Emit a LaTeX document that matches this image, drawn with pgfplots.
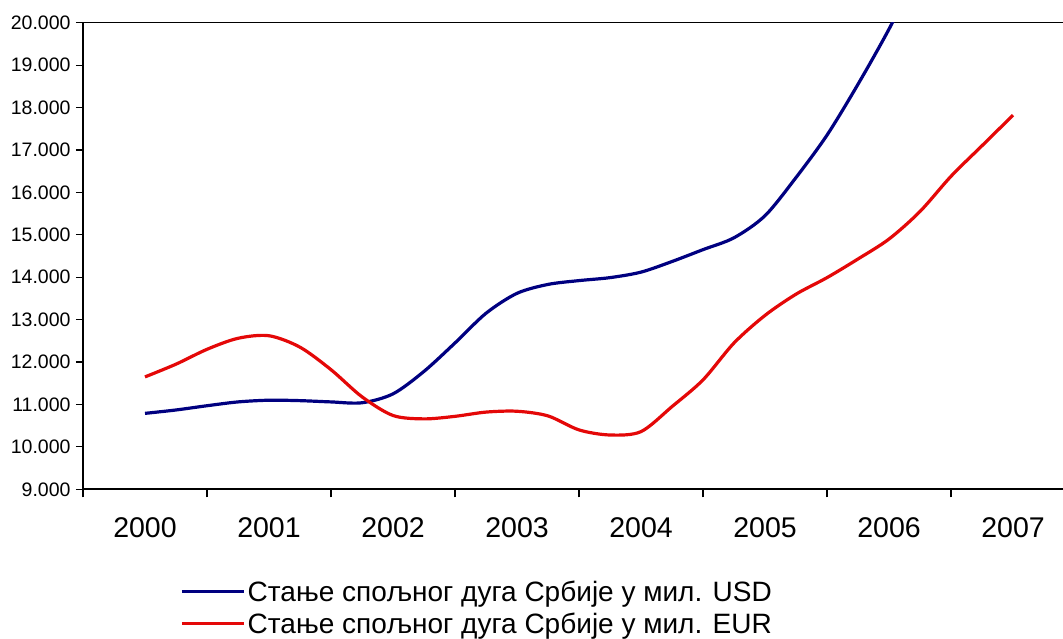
\documentclass[border=0pt]{standalone}
\usepackage{pgfplots}
\pgfplotsset{compat=1.18}
\usepackage{fontspec}
\setmainfont{Liberation Sans}
\definecolor{usdblue}{RGB}{0,0,128}
\definecolor{eurred}{RGB}{228,8,8}
\begin{document}
\begin{tikzpicture}
\begin{axis}[
  at={(0pt,0pt)}, anchor=south west,
  scale only axis, width=980pt, height=466.6pt,
  xmin=-0.5, xmax=7.403, ymin=9000, ymax=20000,
  axis x line=box, axis y line=left,
  axis line style={line width=1.6pt, black},
  x axis line style={-}, y axis line style={-},
  tick align=outside,
  scaled y ticks=false,
  xtick={0,1,2,3,4,5,6,7},
  xticklabels={2000,2001,2002,2003,2004,2005,2006,2007},
  xtick pos=bottom,
  major x tick style={draw=none},
  minor xtick={-0.5,0.5,1.5,2.5,3.5,4.5,5.5,6.5},
  minor x tick style={line width=1.2pt, black},
  minor tick length=8pt,
  ytick={9000,10000,11000,12000,13000,14000,15000,16000,17000,18000,19000,20000},
  yticklabels={9.000,10.000,11.000,12.000,13.000,14.000,15.000,16.000,17.000,18.000,19.000,20.000},
  ytick pos=left,
  major y tick style={line width=1.2pt, black},
  major tick length=7pt,
  xticklabel style={font=\fontsize{28.5}{31}\selectfont, anchor=base, yshift=-41pt},
  yticklabel style={font=\fontsize{19.5}{22}\selectfont, anchor=east, xshift=-2pt},
  /pgf/number format/assume math mode=true,
  legend style={at={(0.099,-0.191)}, anchor=north west, draw=none, fill=none,
    font=\fontsize{28}{30}\selectfont, row sep=6pt, inner sep=0pt,
    /tikz/every even column/.append style={column sep=2pt}},
  legend cell align=left,
  legend image code/.code={\draw[#1, line width=3.5pt] (0pt,0pt) -- (62pt,0pt);},
]
\addplot[usdblue, line width=3.2pt, smooth] coordinates {
(0.00,10790) (0.25,10870) (0.50,10970) (0.75,11060) (1.00,11100)
(1.25,11090) (1.50,11060) (1.75,11040) (2.00,11250) (2.25,11780)
(2.50,12450) (2.75,13150) (3.00,13620) (3.25,13830) (3.50,13920)
(3.75,13990) (4.00,14120) (4.25,14370) (4.50,14650) (4.75,14930)
(5.00,15450) (5.25,16350) (5.50,17350) (5.75,18550) (6.00,19850)
(6.25,21300)
};
\addlegendentry{Стање спољног дуга Србије у мил. USD}
\addplot[eurred, line width=3.2pt, smooth] coordinates {
(0.00,11650) (0.25,11950) (0.50,12300) (0.75,12560) (1.00,12620)
(1.25,12350) (1.50,11820) (1.75,11180) (2.00,10740) (2.25,10660)
(2.50,10720) (2.75,10820) (3.00,10840) (3.25,10730) (3.50,10400)
(3.75,10280) (4.00,10360) (4.25,10950) (4.50,11580) (4.75,12450)
(5.00,13100) (5.25,13600) (5.50,13990) (5.75,14430) (6.00,14900)
(6.25,15550) (6.50,16380) (6.75,17100) (7.00,17820)
};
\addlegendentry{Стање спољног дуга Србије у мил. EUR}
\end{axis}
\pgfresetboundingbox
\path (-83pt,-149.7pt) rectangle (980pt,489.3pt);
\end{tikzpicture}
\end{document}
